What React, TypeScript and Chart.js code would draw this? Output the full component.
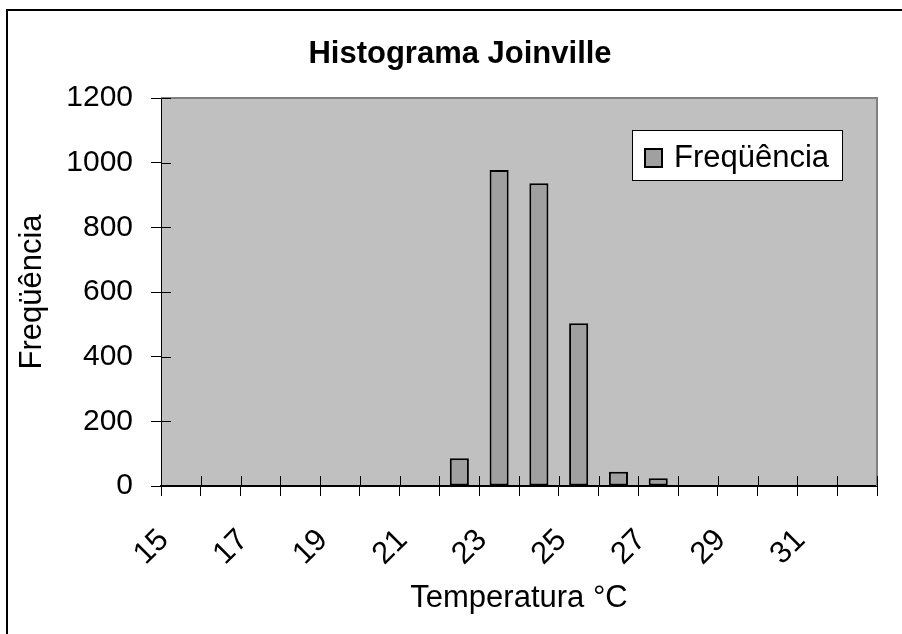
import React, { useEffect, useRef } from "react";
import { Chart, registerables } from "chart.js";

Chart.register(...registerables);

const TITLE = "Histograma Joinville";
const X_TITLE = "Temperatura °C";
const Y_TITLE = "Freqüência";
const SERIES_LABEL = "Freqüência";

const CATEGORIES = [
  "15", "16", "17", "18", "19", "20", "21", "22", "23",
  "24", "25", "26", "27", "28", "29", "30", "31", "32",
];
const FREQUENCIES = [0, 0, 0, 0, 0, 0, 0, 86, 977, 936, 503, 44, 24, 0, 0, 0, 0, 0];

const Y_MIN = 0;
const Y_MAX = 1200;
const Y_STEP = 200;

const FONT = '"Liberation Sans", Arial, sans-serif';
const PLOT_BG = "#c0c0c0";
const BAR_FILL = "#a0a0a0";

const decorPlugin = {
  id: "decor",
  beforeDraw(chart: any) {
    const { ctx, chartArea: a, width, height } = chart;
    ctx.save();
    ctx.fillStyle = "#ffffff";
    ctx.fillRect(0, 0, width, height);
    // outer chart frame (cropped)
    ctx.strokeStyle = "#000000";
    ctx.lineWidth = 2;
    ctx.beginPath();
    ctx.moveTo(7, height + 5);
    ctx.lineTo(7, 10);
    ctx.lineTo(width + 5, 10);
    ctx.stroke();
    // plot area background
    ctx.fillStyle = PLOT_BG;
    ctx.fillRect(a.left, a.top, a.right - a.left, a.bottom - a.top);
    ctx.restore();
  },
  afterDraw(chart: any) {
    const { ctx, chartArea: a } = chart;
    const xs = chart.scales.x;
    const ys = chart.scales.y;
    ctx.save();
    // plot area border top/right
    ctx.strokeStyle = "#808080";
    ctx.lineWidth = 2;
    ctx.beginPath();
    ctx.moveTo(a.left, a.top);
    ctx.lineTo(a.right, a.top);
    ctx.lineTo(a.right, a.bottom);
    ctx.stroke();

    // inner halves of crossing tick marks
    ctx.strokeStyle = "#000000";
    ctx.lineWidth = 1;
    ctx.beginPath();
    for (let i = 0; i <= CATEGORIES.length; i++) {
      const x = Math.round(xs.getPixelForValue(i - 0.5)) + 0.5;
      ctx.moveTo(x, a.bottom);
      ctx.lineTo(x, a.bottom - 10);
    }
    ys.ticks.forEach((t: any) => {
      const y = Math.round(ys.getPixelForValue(t.value)) + 0.5;
      ctx.moveTo(a.left, y);
      ctx.lineTo(a.left + 10, y);
    });
    ctx.stroke();

    // title
    ctx.fillStyle = "#000000";
    ctx.font = `bold 31px ${FONT}`;
    ctx.textAlign = "center";
    ctx.textBaseline = "alphabetic";
    ctx.fillText(TITLE, 460, 63);

    // legend
    const lx = a.right - 245;
    const ly = a.top + 32;
    ctx.fillStyle = "#ffffff";
    ctx.fillRect(lx, ly, 210, 50);
    ctx.strokeStyle = "#000000";
    ctx.lineWidth = 1;
    ctx.strokeRect(lx + 0.5, ly + 0.5, 210, 50);
    ctx.fillStyle = BAR_FILL;
    ctx.fillRect(lx + 12, ly + 18, 19, 20);
    ctx.lineWidth = 2;
    ctx.strokeRect(lx + 13, ly + 19, 17, 18);
    ctx.fillStyle = "#000000";
    ctx.font = `31px ${FONT}`;
    ctx.textAlign = "left";
    ctx.fillText(chart.data.datasets[0].label, lx + 42, ly + 37);
    ctx.restore();
  },
};

export default function App() {
  const canvasRef = useRef<HTMLCanvasElement | null>(null);

  useEffect(() => {
    const canvas = canvasRef.current;
    if (!canvas) return;
    const chart = new Chart(canvas, {
      type: "bar",
      data: {
        labels: CATEGORIES,
        datasets: [
          {
            label: SERIES_LABEL,
            data: FREQUENCIES,
            backgroundColor: BAR_FILL,
            borderColor: "#000000",
            borderWidth: 2,
            borderSkipped: false,
            barPercentage: 0.48,
            categoryPercentage: 1.0,
          },
        ],
      },
      plugins: [decorPlugin],
      options: {
        responsive: false,
        animation: false,
        events: [],
        layout: { padding: { top: 98, left: 0, right: 25, bottom: 0 } },
        plugins: {
          legend: { display: false },
          title: { display: false },
          tooltip: { enabled: false },
        },
        scales: {
          x: {
            type: "category",
            offset: true,
            grid: {
              offset: true,
              drawOnChartArea: false,
              drawTicks: true,
              tickLength: 10,
              color: "#000000",
              lineWidth: 1,
            },
            border: { display: true, color: "#000000", width: 2 },
            ticks: {
              autoSkip: false,
              minRotation: 45,
              maxRotation: 45,
              padding: 26,
              labelOffset: -17,
              color: "#000000",
              font: { family: FONT, size: 31 },
              callback: (_v: any, i: number) => (i % 2 === 0 ? CATEGORIES[i] : ""),
            },
            title: {
              display: true,
              text: X_TITLE,
              color: "#000000",
              font: { family: FONT, size: 31 },
              padding: { top: 0, bottom: 17 },
            },
            afterFit: (scale: any) => {
              scale.height = 148;
              scale.paddingLeft = 0;
              scale.paddingRight = 0;
            },
          },
          y: {
            min: Y_MIN,
            max: Y_MAX,
            grid: {
              drawOnChartArea: false,
              drawTicks: true,
              tickLength: 10,
              color: "#000000",
              lineWidth: 1,
            },
            border: { display: true, color: "#000000", width: 1 },
            ticks: {
              stepSize: Y_STEP,
              padding: 18,
              color: "#000000",
              font: { family: FONT, size: 30 },
              callback: (v: any) => String(v),
            },
            title: {
              display: true,
              text: Y_TITLE,
              color: "#000000",
              font: { family: FONT, size: 31 },
              padding: { top: 14, bottom: 0 },
            },
            afterFit: (scale: any) => {
              scale.width = 161;
            },
          },
        },
      },
    });
    return () => chart.destroy();
  }, []);

  return (
    <div style={{ position: "absolute", left: 0, top: 0, width: 902, height: 634 }}>
      <canvas ref={canvasRef} width={902} height={634} style={{ display: "block" }} />
    </div>
  );
}
